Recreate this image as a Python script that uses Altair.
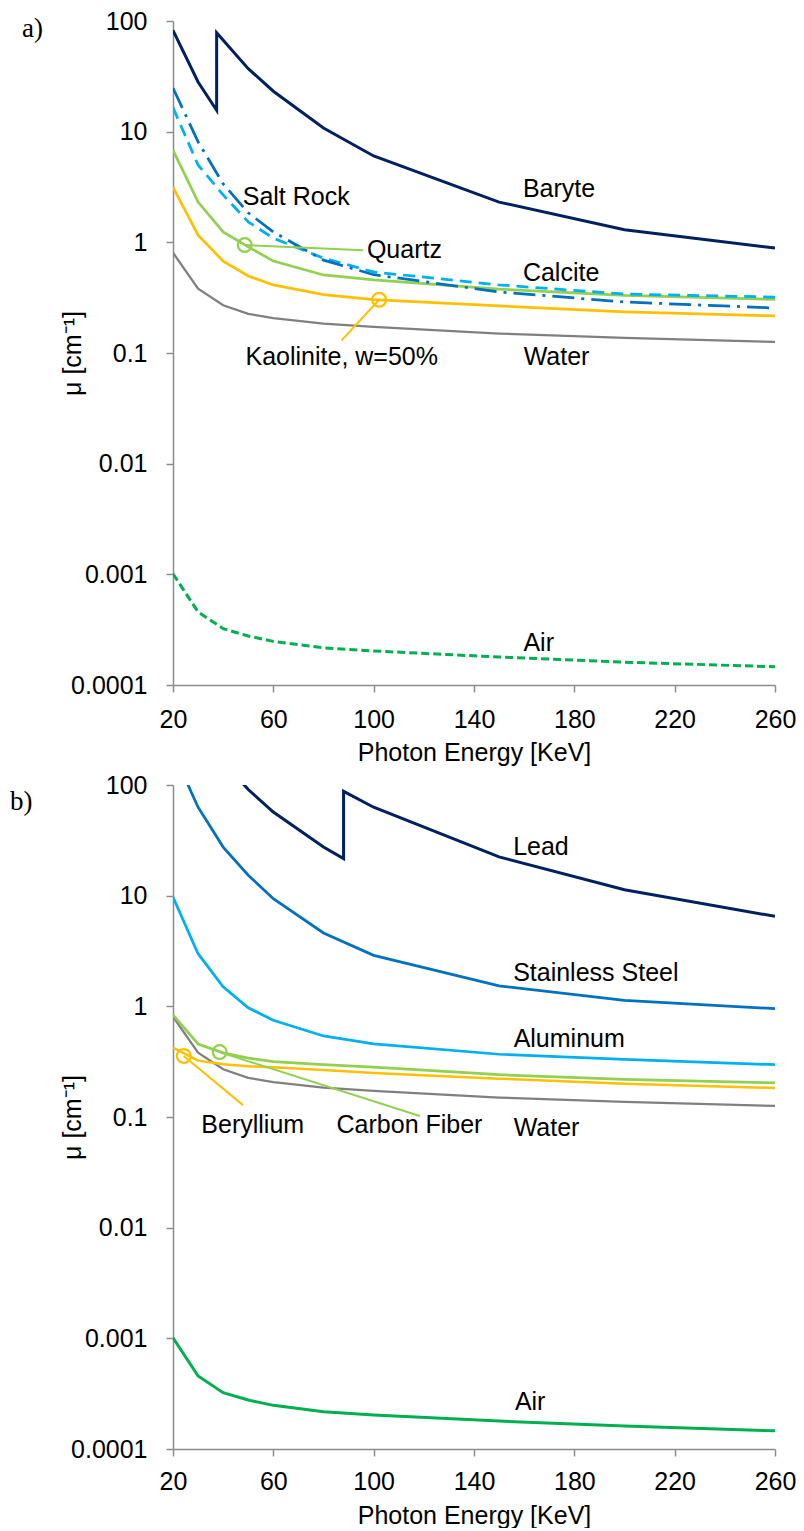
import altair as alt
import pandas as pd

# ---------------- data ----------------
ENERGY = [20, 30, 40, 50, 60, 80, 100, 150, 200, 260]
X_TICKS = [20, 60, 100, 140, 180, 220, 260]
Y_TICKS = [0.0001, 0.001, 0.01, 0.1, 1, 10, 100]

# panel a
BARYTE_E = [20, 30, 37.4, 37.4, 50, 60, 80, 100, 150, 200, 260]
BARYTE_MU = [82.4, 28.1, 15.6, 78.4, 37.1, 23.2, 10.8, 6.03, 2.31, 1.30, 0.889]
SALT_ROCK_MU = [24.8, 8.1, 3.37, 1.85, 1.24, 0.69, 0.51, 0.356, 0.289, 0.255]
CALCITE_MU = [16.5, 5.0, 2.68, 1.53, 1.09, 0.72, 0.54, 0.412, 0.341, 0.32]
QUARTZ_MU = [6.8, 2.31, 1.24, 0.91, 0.677, 0.507, 0.457, 0.378, 0.332, 0.305]
KAOLINITE_MU = [3.16, 1.16, 0.677, 0.497, 0.412, 0.337, 0.303, 0.266, 0.235, 0.216]
WATER_MU = [0.806, 0.381, 0.27, 0.226, 0.207, 0.184, 0.172, 0.15, 0.137, 0.126]
AIR_MU = [0.00101, 0.000457, 0.000323, 0.000277, 0.000248, 0.000217,
          0.000203, 0.000179, 0.000161, 0.000146]

# panel b
LEAD_E = [40, 50, 60, 80, 88, 88, 100, 150, 200, 260]
LEAD_MU = [163, 91, 57, 27.5, 21.6, 87.7, 63, 22.4, 11.3, 6.5]
STEEL_MU = [200, 63, 27.5, 15.3, 9.4, 4.6, 2.89, 1.53, 1.13, 0.953]
ALUMINUM_MU = [9.7, 2.99, 1.5, 0.97, 0.748, 0.54, 0.459, 0.369, 0.332, 0.297]
CARBON_MU = [0.835, 0.457, 0.38, 0.341, 0.317, 0.297, 0.282, 0.241, 0.219, 0.203]
BERYLLIUM_MU = [0.423, 0.323, 0.299, 0.288, 0.281, 0.266, 0.25, 0.222, 0.2, 0.183]

# series labels (text, energy, mu at baseline)
A_LABELS = ["Baryte", "Salt Rock", "Quartz", "Calcite", "Kaolinite, w=50%", "Water", "Air"]
A_LABEL_E = [159.5, 47.8, 97.3, 159.5, 48.9, 159.8, 159.7]
A_LABEL_MU = [2.57, 2.19, 0.722, 0.445, 0.0774, 0.0774, 0.000202]

B_LABELS = ["Lead", "Stainless Steel", "Aluminum", "Beryllium", "Carbon Fiber", "Water", "Air"]
B_LABEL_E = [155.6, 155.6, 155.8, 31.3, 85.2, 155.8, 156.3]
B_LABEL_MU = [23.2, 1.68, 0.43, 0.071, 0.071, 0.0674, 0.000224]

# callouts: marker point and end of leader line
A_CALLOUT_E = [48.6, 102.2]
A_CALLOUT_MU = [0.946, 0.303]
A_CALLOUT_E2 = [95.8, 87.2]
A_CALLOUT_MU2 = [0.85, 0.13]

B_CALLOUT_E = [24.3, 38.6]
B_CALLOUT_MU = [0.356, 0.386]
B_CALLOUT_E2 = [47.9, 118.4]
B_CALLOUT_MU2 = [0.128, 0.102]

# ---------------- styling ----------------
NAVY = "#002060"
BLUE = "#0070C0"
LIGHTBLUE = "#00B0F0"
LIGHTGREEN = "#92D050"
ORANGE = "#FFC000"
GRAY = "#808080"
GREEN = "#00B050"
AXIS_GRAY = "#8c8c8c"
FONT = "Liberation Sans"


def make_panel(series, labels, label_e, label_mu, callouts, tag, tag_x, tag_y,
               xlabel_pad, xtitle_pad):
    x_enc = alt.X(
        "E:Q",
        scale=alt.Scale(domain=[20, 260], nice=False, zero=False),
        axis=alt.Axis(
            values=X_TICKS, title="Photon Energy [KeV]", grid=False,
            tickSize=7, labelPadding=xlabel_pad, titlePadding=xtitle_pad,
            labelFlush=False, labelOverlap=False,
        ),
    )
    y_enc = alt.Y(
        "mu:Q",
        scale=alt.Scale(type="log", domain=[0.0001, 100], nice=False),
        axis=alt.Axis(
            values=Y_TICKS, format="~g", title="μ [cm⁻¹]", grid=False,
            tickSize=7, labelPadding=19, labelFlush=False, labelOverlap=False,
            titleAngle=270, titleX=-101, titleY=332, titleAlign="center",
            titleBaseline="middle",
        ),
    )
    layers = []
    for energies, values, color, width, dash in series:
        df = pd.DataFrame({"E": energies, "mu": values, "i": list(range(len(values)))})
        kw = dict(color=color, strokeWidth=width, clip=True)
        if dash:
            kw["strokeDash"] = dash
        layers.append(
            alt.Chart(df).mark_line(**kw).encode(x=x_enc, y=y_enc, order=alt.Order("i:Q"))
        )
    for e, m, e2, m2, color in callouts:
        df = pd.DataFrame({"E": [e], "mu": [m], "E2": [e2], "mu2": [m2]})
        layers.append(
            alt.Chart(df).mark_rule(color=color, strokeWidth=2).encode(
                x=x_enc, y=y_enc, x2="E2:Q", y2="mu2:Q")
        )
        layers.append(
            alt.Chart(df).mark_point(shape="circle", filled=False, size=190,
                                     strokeWidth=2.25, color=color, opacity=1).encode(x=x_enc, y=y_enc)
        )
    ldf = pd.DataFrame({"E": label_e, "mu": label_mu, "label": labels})
    layers.append(
        alt.Chart(ldf).mark_text(align="left", baseline="alphabetic", font=FONT,
                                 fontSize=25, color="black").encode(
            x=x_enc, y=y_enc, text="label:N")
    )
    tdf = pd.DataFrame({"t": [tag]})
    layers.append(
        alt.Chart(tdf).mark_text(align="left", baseline="alphabetic",
                                 font="Liberation Serif", fontSize=27, color="black").encode(
            x=alt.value(tag_x), y=alt.value(tag_y), text="t:N")
    )
    return alt.layer(*layers).properties(width=602, height=664)


series_a = [
    (ENERGY, AIR_MU, GREEN, 3, [8, 4]),
    (ENERGY, WATER_MU, GRAY, 2.25, None),
    (ENERGY, KAOLINITE_MU, ORANGE, 2.75, None),
    (ENERGY, QUARTZ_MU, LIGHTGREEN, 2.75, None),
    (ENERGY, CALCITE_MU, LIGHTBLUE, 2.75, [12, 7]),
    (ENERGY, SALT_ROCK_MU, BLUE, 2.75, [22, 7, 3, 7]),
    (BARYTE_E, BARYTE_MU, NAVY, 3, None),
]
callouts_a = [
    (A_CALLOUT_E[0], A_CALLOUT_MU[0], A_CALLOUT_E2[0], A_CALLOUT_MU2[0], LIGHTGREEN),
    (A_CALLOUT_E[1], A_CALLOUT_MU[1], A_CALLOUT_E2[1], A_CALLOUT_MU2[1], ORANGE),
]
series_b = [
    (ENERGY, AIR_MU, GREEN, 3, None),
    (ENERGY, WATER_MU, GRAY, 2.25, None),
    (ENERGY, BERYLLIUM_MU, ORANGE, 2.5, None),
    (ENERGY, CARBON_MU, LIGHTGREEN, 2.75, None),
    (ENERGY, ALUMINUM_MU, LIGHTBLUE, 2.75, None),
    (ENERGY, STEEL_MU, BLUE, 2.75, None),
    (LEAD_E, LEAD_MU, NAVY, 3, None),
]
callouts_b = [
    (B_CALLOUT_E[0], B_CALLOUT_MU[0], B_CALLOUT_E2[0], B_CALLOUT_MU2[0], ORANGE),
    (B_CALLOUT_E[1], B_CALLOUT_MU[1], B_CALLOUT_E2[1], B_CALLOUT_MU2[1], LIGHTGREEN),
]

panel_a = make_panel(series_a, A_LABELS, A_LABEL_E, A_LABEL_MU, callouts_a,
                     "a)", -151, 16, 15, 8)
panel_b = make_panel(series_b, B_LABELS, B_LABEL_E, B_LABEL_MU, callouts_b,
                     "b)", -163, 25, 13, 9)

chart = (
    alt.vconcat(panel_a, panel_b, spacing=100, bounds="flush")
    .properties(padding={"left": 2, "top": 1, "right": 0, "bottom": 0}, background="white")
    .configure_view(strokeWidth=0)
    .configure_axis(
        domainColor=AXIS_GRAY, domainWidth=1.5, tickColor=AXIS_GRAY, tickWidth=1.5,
        labelFont=FONT, labelFontSize=25, labelColor="black",
        titleFont=FONT, titleFontSize=25, titleFontWeight="normal", titleColor="black",
    )
)

chart.save("out.html", embed_options={"renderer": "svg", "actions": False})
